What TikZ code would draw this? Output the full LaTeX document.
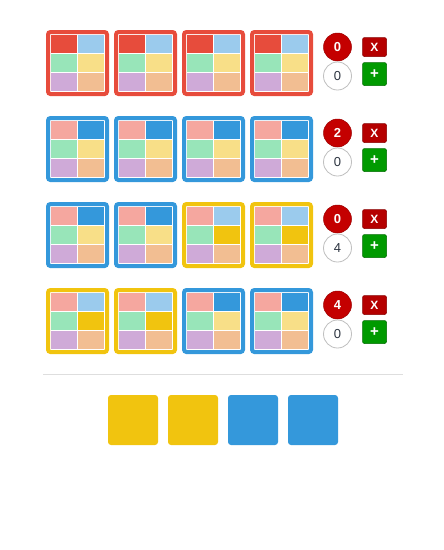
\documentclass[tikz,border=0pt]{standalone}
\usepackage{fontspec}
\setmainfont{Liberation Sans}

\definecolor{cred}{HTML}{E74C3C}
\definecolor{cblue}{HTML}{3498DB}
\definecolor{cyellow}{HTML}{F1C40F}
\definecolor{lred}{HTML}{F5A79F}
\definecolor{lblue}{HTML}{9BCBED}
\definecolor{lgreen}{HTML}{98E5B9}
\definecolor{lyellow}{HTML}{F8DF88}
\definecolor{lpurple}{HTML}{CFAAD8}
\definecolor{lorange}{HTML}{F2BE92}
\definecolor{hitred}{HTML}{C40000}
\definecolor{btnred}{HTML}{B50000}
\definecolor{btngreen}{HTML}{009A00}
\definecolor{misstext}{HTML}{2C3440}

% colours per tile kind
\colorlet{bordR}{cred}    \colorlet{tlR}{cred}  \colorlet{trR}{lblue} \colorlet{mrR}{lyellow}
\colorlet{bordB}{cblue}   \colorlet{tlB}{lred}  \colorlet{trB}{cblue} \colorlet{mrB}{lyellow}
\colorlet{bordY}{cyellow} \colorlet{tlY}{lred}  \colorlet{trY}{lblue} \colorlet{mrY}{cyellow}

\begin{document}
\begin{tikzpicture}[x=1pt,y=-1pt,
        tile/.style={draw=bord#1,fill=white,line width=4pt,rounded corners=2.5pt,
          minimum width=59pt,minimum height=62pt,inner sep=0pt},
        hit/.style={circle,fill=hitred,draw=hitred!80!black,line width=0.5pt,minimum size=28pt,
          inner sep=0pt,text=white,font=\fontsize{13}{15}\selectfont\bfseries},
        miss/.style={circle,fill=white,draw=black!25,line width=0.8pt,minimum size=28pt,
          inner sep=0pt,text=misstext,font=\fontsize{13}{15}\selectfont},
        btnx/.style={fill=btnred,draw=btnred!75!black,line width=0.5pt,rounded corners=2pt,
          minimum width=24pt,minimum height=19pt,inner sep=0pt,text=white,
          font=\fontsize{12}{14}\selectfont\bfseries},
        btnp/.style={btnx,fill=btngreen,draw=btngreen!70!black,minimum height=23pt,
          font=\fontsize{15}{17}\selectfont\bfseries},
        pick/.style={fill=#1,rounded corners=3pt,minimum size=50pt,inner sep=0pt}]

  \useasboundingbox (0,0) rectangle (444,550);

  \foreach \r/\a/\b/\c/\d/\u/\v in {0/R/R/R/R/0/0, 1/B/B/B/B/2/0,
      2/B/B/Y/Y/0/4, 3/Y/Y/B/B/4/0} {
    \foreach \k [count=\i from 0] in {\a,\b,\c,\d} {
      \begin{scope}[shift={(46+68*\i,30+86*\r)}]
        \node[tile=\k] (t\r\i) at (31.5,33) {};
        \fill[fill=tl\k] (5,5) rectangle +(26,18);
        \fill[fill=tr\k] (32,5) rectangle +(26,18);
        \fill[lgreen] (5,24) rectangle +(26,18);
        \fill[fill=mr\k] (32,24) rectangle +(26,18);
        \fill[lpurple] (5,43) rectangle +(26,18);
        \fill[lorange] (32,43) rectangle +(26,18);
      \end{scope}
    }
    \begin{scope}[shift={(0,30+86*\r)}]
      \node[hit] (h\r) at (337.5,17) {\u};
      \node[miss] (m\r) at (337.5,46) {\v};
      \node[btnx] (x\r) at (374.5,17) {X};
      \node[btnp] (p\r) at (374.5,44) {+};
    \end{scope}
  }

  \draw[black!13,line width=0.8pt] (43,374.5) -- (403,374.5);

  \node[pick=cyellow] (s0) at (133,420) {};
  \node[pick=cyellow] (s1) at (193,420) {};
  \node[pick=cblue]   (s2) at (253,420) {};
  \node[pick=cblue]   (s3) at (313,420) {};

\end{tikzpicture}
\end{document}
